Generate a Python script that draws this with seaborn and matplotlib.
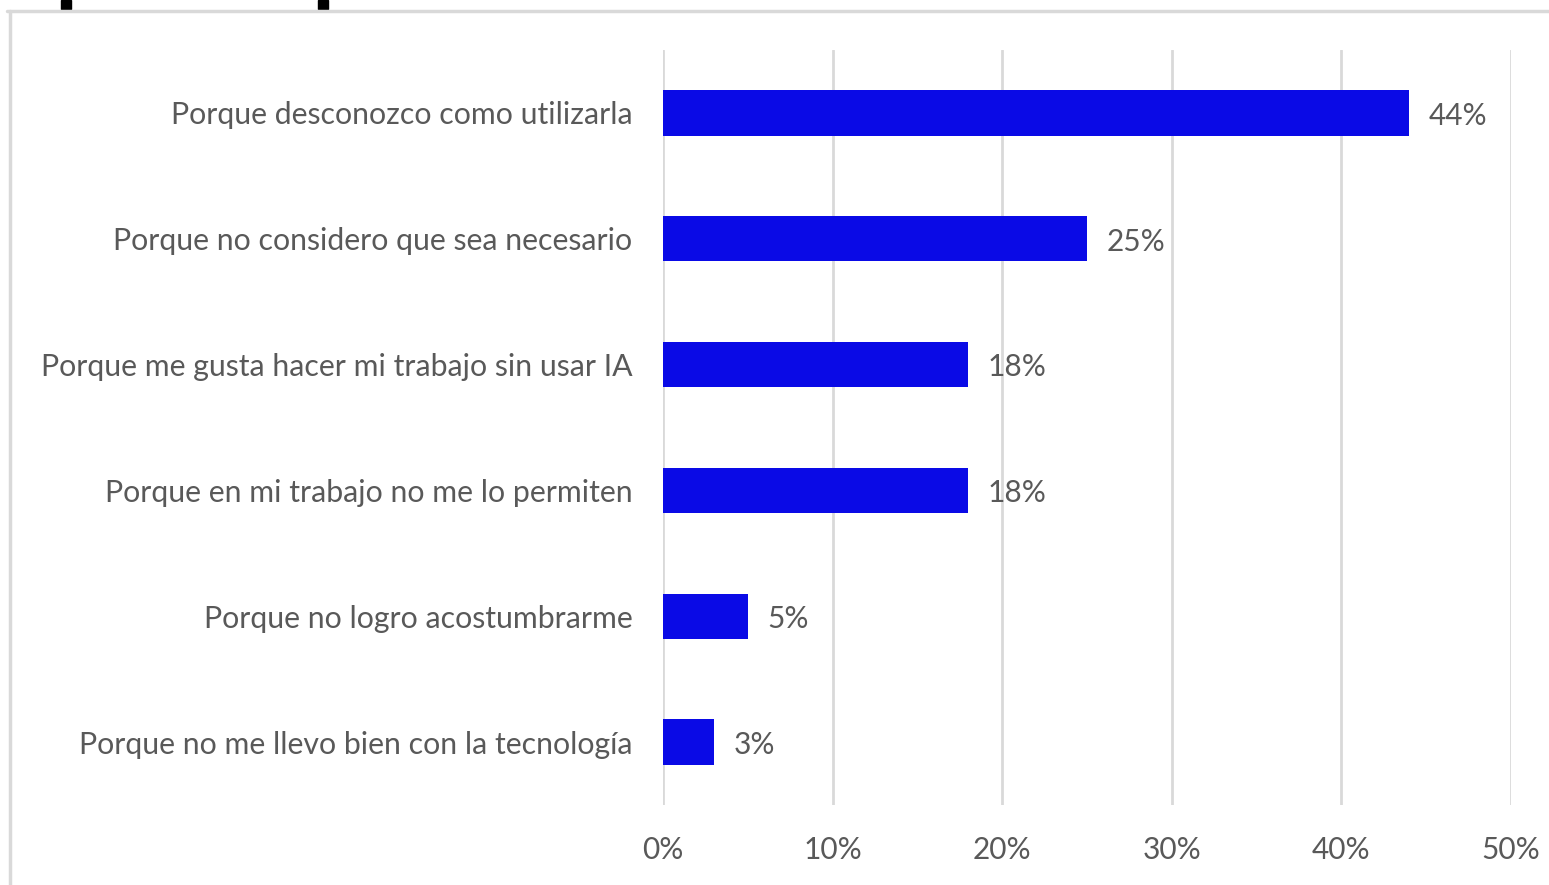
import matplotlib
matplotlib.use("Agg")
import matplotlib.pyplot as plt
import seaborn as sns
import pandas as pd
from matplotlib.patches import Rectangle
from matplotlib.lines import Line2D
from matplotlib.ticker import PercentFormatter

categories = [
    "Porque desconozco como utilizarla",
    "Porque no considero que sea necesario",
    "Porque me gusta hacer mi trabajo sin usar IA",
    "Porque en mi trabajo no me lo permiten",
    "Porque no logro acostumbrarme",
    "Porque no me llevo bien con la tecnología",
]
values = [44, 25, 18, 18, 5, 3]
xticks = [0, 10, 20, 30, 40, 50]

sns.set_theme(style="white")
plt.rcParams["font.family"] = ["Lato", "DejaVu Sans"]

W, H = 1549, 885
fig = plt.figure(figsize=(W / 100, H / 100), dpi=100)
fig.patch.set_facecolor("white")
ax = fig.add_axes([663 / W, 1 - 805 / H, (1511 - 663) / W, (805 - 50) / H])

df = pd.DataFrame({"cat": categories, "val": values})
sns.barplot(data=df, x="val", y="cat", orient="h", color="#0A0AE6",
            saturation=1, width=0.36, ax=ax, edgecolor="none")

ax.set_xlim(0, 50)
ax.set_ylim(5.5, -0.5)
ax.set_xticks(xticks)
ax.xaxis.set_major_formatter(PercentFormatter(decimals=0))
ax.set_xlabel("")
ax.set_ylabel("")
ax.grid(axis="x", color="#D9D9D9", linewidth=2)
ax.set_axisbelow(True)
for s in ax.spines.values():
    s.set_visible(False)
ax.tick_params(axis="y", length=0, pad=22, labelsize=21.8, labelcolor="#595959")
ax.tick_params(axis="x", length=0, pad=22, labelsize=21.5, labelcolor="#595959")

for i, v in enumerate(values):
    ax.annotate(f"{v}%", (v, i), xytext=(14, -2), textcoords="offset points",
                ha="left", va="center", fontsize=21.5, color="#595959")

# chart frame
fig.add_artist(Line2D([7 / W, 1], [1 - 11 / H, 1 - 11 / H], transform=fig.transFigure,
                      color="#D9D9D9", linewidth=2.5))
fig.add_artist(Line2D([10 / W, 10 / W], [1 - 11 / H, 0], transform=fig.transFigure,
                      color="#D9D9D9", linewidth=2.5))
# cropped black marks at the top
for x0 in (61, 318):
    fig.add_artist(Rectangle((x0 / W, 1 - 9 / H), 10 / W, 9 / H, transform=fig.transFigure,
                             color="black"))

fig.savefig("out.png", dpi=100)
